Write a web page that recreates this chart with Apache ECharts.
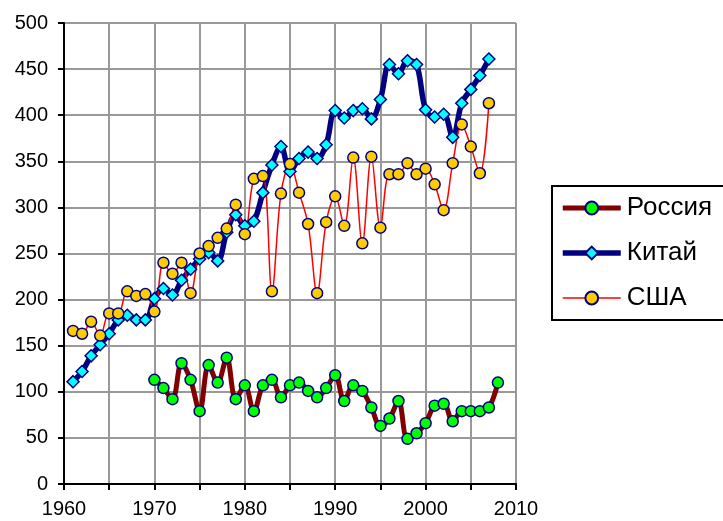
<!DOCTYPE html>
<html>
<head>
<meta charset="utf-8">
<script src="https://cdn.jsdelivr.net/npm/echarts@6/dist/echarts.min.js"></script>
<style>
  html, body { margin: 0; padding: 0; background: #fff; }
  #chart { width: 723px; height: 521px; }
</style>
</head>
<body>
<div id="chart"></div>
<script>
// годы и значения
const russiaYears = [1970, 1971, 1972, 1973, 1974, 1975, 1976, 1977, 1978, 1979,
  1980, 1981, 1982, 1983, 1984, 1985, 1986, 1987, 1988, 1989,
  1990, 1991, 1992, 1993, 1994, 1995, 1996, 1997, 1998, 1999,
  2000, 2001, 2002, 2003, 2004, 2005, 2006, 2007, 2008];
const russiaValues = [113, 104, 92, 131, 113, 79, 129, 110, 137, 92,
  107, 79, 107, 113, 94, 107, 110, 101, 94, 104,
  118, 90, 107, 101, 83, 63, 71, 90, 49, 55,
  66, 85, 87, 68, 79, 79, 79, 83, 110];

const chinaYears = [1961, 1962, 1963, 1964, 1965, 1966, 1967, 1968, 1969,
  1970, 1971, 1972, 1973, 1974, 1975, 1976, 1977, 1978, 1979,
  1980, 1981, 1982, 1983, 1984, 1985, 1986, 1987, 1988, 1989,
  1990, 1991, 1992, 1993, 1994, 1995, 1996, 1997, 1998, 1999,
  2000, 2001, 2002, 2003, 2004, 2005, 2006, 2007];
const chinaValues = [111, 122, 139, 151, 163, 178, 183, 178, 178,
  201, 212, 205, 221, 233, 244, 251, 242, 273, 292,
  280, 285, 316, 346, 366, 339, 353, 360, 353, 368,
  405, 397, 405, 407, 396, 417, 455, 445, 459, 455,
  406, 398, 401, 376, 413, 428, 443, 461];

const usaYears = chinaYears;
const usaValues = [166, 163, 176, 161, 185, 185, 209, 204, 206,
  187, 240, 228, 240, 207, 250, 258, 267, 277, 303,
  271, 331, 334, 209, 315, 347, 316, 282, 207, 284,
  312, 280, 354, 261, 355, 278, 336, 336, 348, 336,
  342, 325, 297, 348, 390, 366, 337, 413];

const xMin = 1960, xMax = 2010, xStep = 5;
const yMin = 0, yMax = 500, yStep = 50;

function pairs(xs, ys) {
  return xs.map(function (x, i) { return [x, ys[i]]; });
}

const font = '"Liberation Sans", Arial, sans-serif';
const chart = echarts.init(document.getElementById('chart'));

chart.setOption({
  animation: false,
  backgroundColor: '#fff',
  grid: { left: 64, top: 23, right: 207, bottom: 37 },
  // рамка легенды уходит за правый край, как в оригинале
  graphic: [{
    type: 'polyline',
    shape: { points: [[780, 186], [552, 186], [552, 320], [780, 320]] },
    style: { fill: null, stroke: '#000', lineWidth: 2 },
    silent: true
  }],
  legend: {
    orient: 'vertical',
    left: 552,
    top: 186,
    padding: [9, 0, 9, 8],
    itemGap: 19,
    itemWidth: 58,
    itemHeight: 16,
    textStyle: { fontFamily: font, fontSize: 26, color: '#000', padding: [0, 0, 0, 1] },
    lineStyle: { width: 'inherit' },
    data: ['Россия', 'Китай', 'США']
  },
  xAxis: {
    type: 'value',
    min: xMin, max: xMax, interval: xStep,
    axisLine: { lineStyle: { color: '#000', width: 2 } },
    axisTick: { show: true, length: 6, lineStyle: { color: '#000', width: 2 } },
    axisLabel: {
      margin: 15, color: '#000', fontFamily: font, fontSize: 20,
      formatter: function (v) { return v % 10 === 0 ? String(v) : ''; }
    },
    splitLine: { show: true, lineStyle: { color: '#999', width: 2 } }
  },
  yAxis: {
    type: 'value',
    min: yMin, max: yMax, interval: yStep,
    axisLine: { show: true, lineStyle: { color: '#000', width: 2 } },
    axisTick: { show: true, length: 6, lineStyle: { color: '#000', width: 2 } },
    axisLabel: { margin: 16, color: '#000', fontFamily: font, fontSize: 20 },
    splitLine: { show: true, lineStyle: { color: '#999', width: 2 } }
  },
  series: [
    {
      name: 'Россия',
      type: 'line',
      data: pairs(russiaYears, russiaValues),
      smooth: 0.35,
      symbol: 'circle',
      symbolSize: 11,
      lineStyle: { color: '#800000', width: 5 },
      itemStyle: { color: '#00ff00', borderColor: '#000080', borderWidth: 1.5 }
    },
    {
      name: 'Китай',
      type: 'line',
      data: pairs(chinaYears, chinaValues),
      smooth: 0.35,
      symbol: 'diamond',
      symbolSize: 12,
      lineStyle: { color: '#000080', width: 5.5 },
      itemStyle: { color: '#00ffff', borderColor: '#000080', borderWidth: 1.5 }
    },
    {
      name: 'США',
      type: 'line',
      data: pairs(usaYears, usaValues),
      smooth: 0.35,
      symbol: 'circle',
      symbolSize: 11,
      lineStyle: { color: '#ff0000', width: 1.5 },
      itemStyle: { color: '#ffcc00', borderColor: '#000080', borderWidth: 1.5 }
    }
  ]
});
</script>
</body>
</html>
